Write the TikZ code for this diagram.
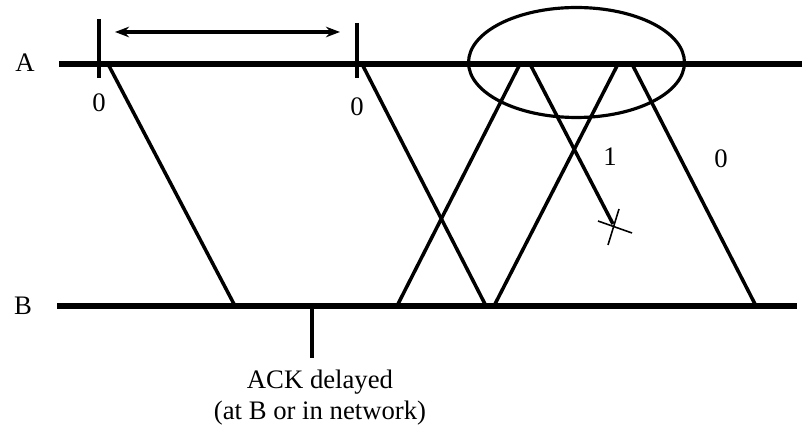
\documentclass[tikz,border=0pt]{standalone}
\usepackage{fontspec}
\setmainfont{Liberation Serif}
\usetikzlibrary{arrows.meta, positioning}

\begin{document}
\begin{tikzpicture}[
  x=0.02cm, y=-0.02cm,
  every node/.style={font=\fontsize{15.2}{18}\selectfont, inner sep=0pt},
  timeline/.style={line width=3.6pt},
  msg/.style={line width=2pt},
  tick/.style={line width=2.2pt},
  lost/.style={line width=0.9pt},
]
  \useasboundingbox (0,0) rectangle (802,428);

  % Time lines
  \node (A) at (25,63) {A};
  \node (B) at (23,306) {B};
  \coordinate (As) at (59,64);  \coordinate (Ae) at (802,64);
  \coordinate (Bs) at (57,306); \coordinate (Be) at (797,306);
  \draw[timeline] (As) -- (Ae);
  \draw[timeline] (Bs) -- (Be);

  % Send points on A, arrivals on B
  \coordinate (a1) at (108,64);  \coordinate (b1) at (235,306);
  \coordinate (a2) at (362,64);  \coordinate (b2) at (486,306);
  \coordinate (a3) at (530,64);  \coordinate (x3) at (613,224);
  \coordinate (a4) at (632,64);  \coordinate (b4) at (756,306);
  % ACKs from B
  \coordinate (k1) at (397,306); \coordinate (r1) at (520,64);
  \coordinate (k2) at (494,306); \coordinate (r2) at (618,64);

  % Timeout ticks
  \coordinate (t1) at (99,19);  \coordinate (t1e) at (99,78);
  \coordinate (t2) at (357,23); \coordinate (t2e) at (357,78);
  \draw[tick] (t1) -- (t1e);
  \draw[tick] (t2) -- (t2e);
  \coordinate (w1) at (115,32); \coordinate (w2) at (340,32);
  \draw[msg, {Stealth[length=8pt,width=6pt]}-{Stealth[length=8pt,width=6pt]}] (w1) -- (w2);

  % Messages
  \draw[msg] (a1) -- (b1);
  \draw[msg] (a2) -- (b2);
  \draw[msg] (a3) -- (x3);
  \draw[msg] (a4) -- (b4);
  \draw[msg] (k1) -- (r1);
  \draw[msg] (k2) -- (r2);

  % Loss mark
  \draw[lost] (x3) ++(-15,-3) -- ++(34,12);
  \draw[lost] (x3) ++(6,-15) -- ++(-11,36);

  % Window
  \draw[line width=1.8pt] (576.5,62.5) ellipse [x radius=2.16cm, y radius=1.1cm];

  % Labels
  \node (l1) at (99,103) {0};
  \node (l2) at (357,107) {0};
  \node (l3) at (610,157) {1};
  \node (l4) at (721,159) {0};

  % ACK delayed
  \coordinate (dly) at (312,306); \coordinate (dlye) at (312,358);
  \draw[tick] (dly) -- (dlye);
  \node[anchor=base] (ack1) at (320,389) {ACK delayed};
  \node[anchor=base] (ack2) at (320,420) {(at B or in network)};
\end{tikzpicture}
\end{document}
